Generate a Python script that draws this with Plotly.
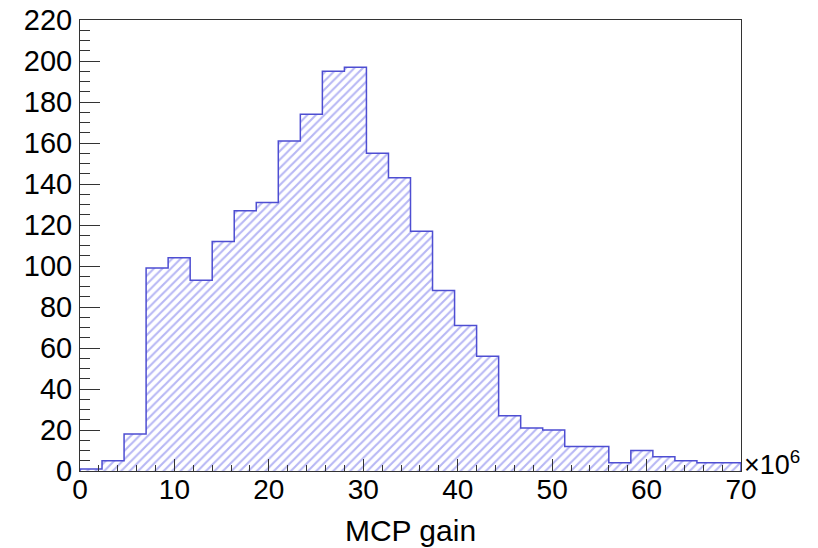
import plotly.graph_objects as go

# Histogram data (MCP gain in units of 1e6), 30 bins from 0 to 70
x_min = 0.0
x_max = 70.0
n_bins = 30
counts = [1, 5, 18, 99, 104, 93, 112, 127, 131, 161, 174, 195, 197, 155, 143,
          117, 88, 71, 56, 27, 21, 20, 12, 12, 4, 10, 7, 5, 4, 4]
x_tick_vals = [0, 10, 20, 30, 40, 50, 60, 70]
y_tick_vals = [0, 20, 40, 60, 80, 100, 120, 140, 160, 180, 200, 220]

bw = (x_max - x_min) / n_bins
edges = [x_min + i * bw for i in range(n_bins + 1)]
centers = [x_min + (i + 0.5) * bw for i in range(n_bins)]

fill_col = "#7070ea"
line_col = "#4e4ed2"
font_fam = "Liberation Sans, Arial, Helvetica, sans-serif"

fig = go.Figure()
fig.add_trace(go.Bar(
    x=centers, y=counts, width=[bw] * n_bins,
    marker=dict(color="white", line=dict(width=0),
                pattern=dict(shape="/", fgcolor=fill_col, bgcolor="white",
                             size=6, solidity=0.35)),
    showlegend=False, hoverinfo="skip",
))
step_x = [edges[0]] + edges[:-1] + [edges[-1], edges[-1]]
step_y = [0] + counts + [counts[-1], 0]
fig.add_trace(go.Scatter(
    x=step_x, y=step_y, mode="lines", line=dict(color=line_col, width=1.5, shape="hv"),
    showlegend=False, hoverinfo="skip",
))

# the page body has an 8px default margin, so the figure is 8px smaller
fig.update_layout(
    width=810, height=540,
    margin=dict(l=72, r=77, t=12, b=77),
    paper_bgcolor="white", plot_bgcolor="white",
    bargap=0,
    font=dict(family=font_fam, size=28, color="black"),
    xaxis=dict(
        range=[x_min, x_max], tickvals=x_tick_vals, automargin=False,
        ticks="inside", ticklen=12, tickcolor="#333", tickwidth=1,
        minor=dict(dtick=2, ticks="inside", ticklen=6, tickcolor="#333"),
        showline=True, linecolor="#333", linewidth=1, mirror=True,
        showgrid=False, zeroline=False, ticklabeloverflow="allow",
        tickfont=dict(size=28), ticklabelstandoff=-7,
        title=dict(text="MCP gain", font=dict(size=30), standoff=16),
    ),
    yaxis=dict(
        range=[0, 220], tickvals=y_tick_vals, automargin=False,
        ticks="inside", ticklen=20, tickcolor="#333", tickwidth=1,
        minor=dict(dtick=5, ticks="inside", ticklen=10, tickcolor="#333"),
        showline=True, linecolor="#333", linewidth=1, mirror=True,
        showgrid=False, zeroline=False, ticklabeloverflow="allow",
        tickfont=dict(size=29), ticklabelstandoff=1,
    ),
    annotations=[dict(
        text="×10<sup>6</sup>", xref="paper", yref="paper", x=1.0, y=0.0,
        xanchor="left", yanchor="middle", showarrow=False, xshift=1, yshift=8,
        font=dict(size=27, family=font_fam),
    )],
)

fig.write_html("out.html")
